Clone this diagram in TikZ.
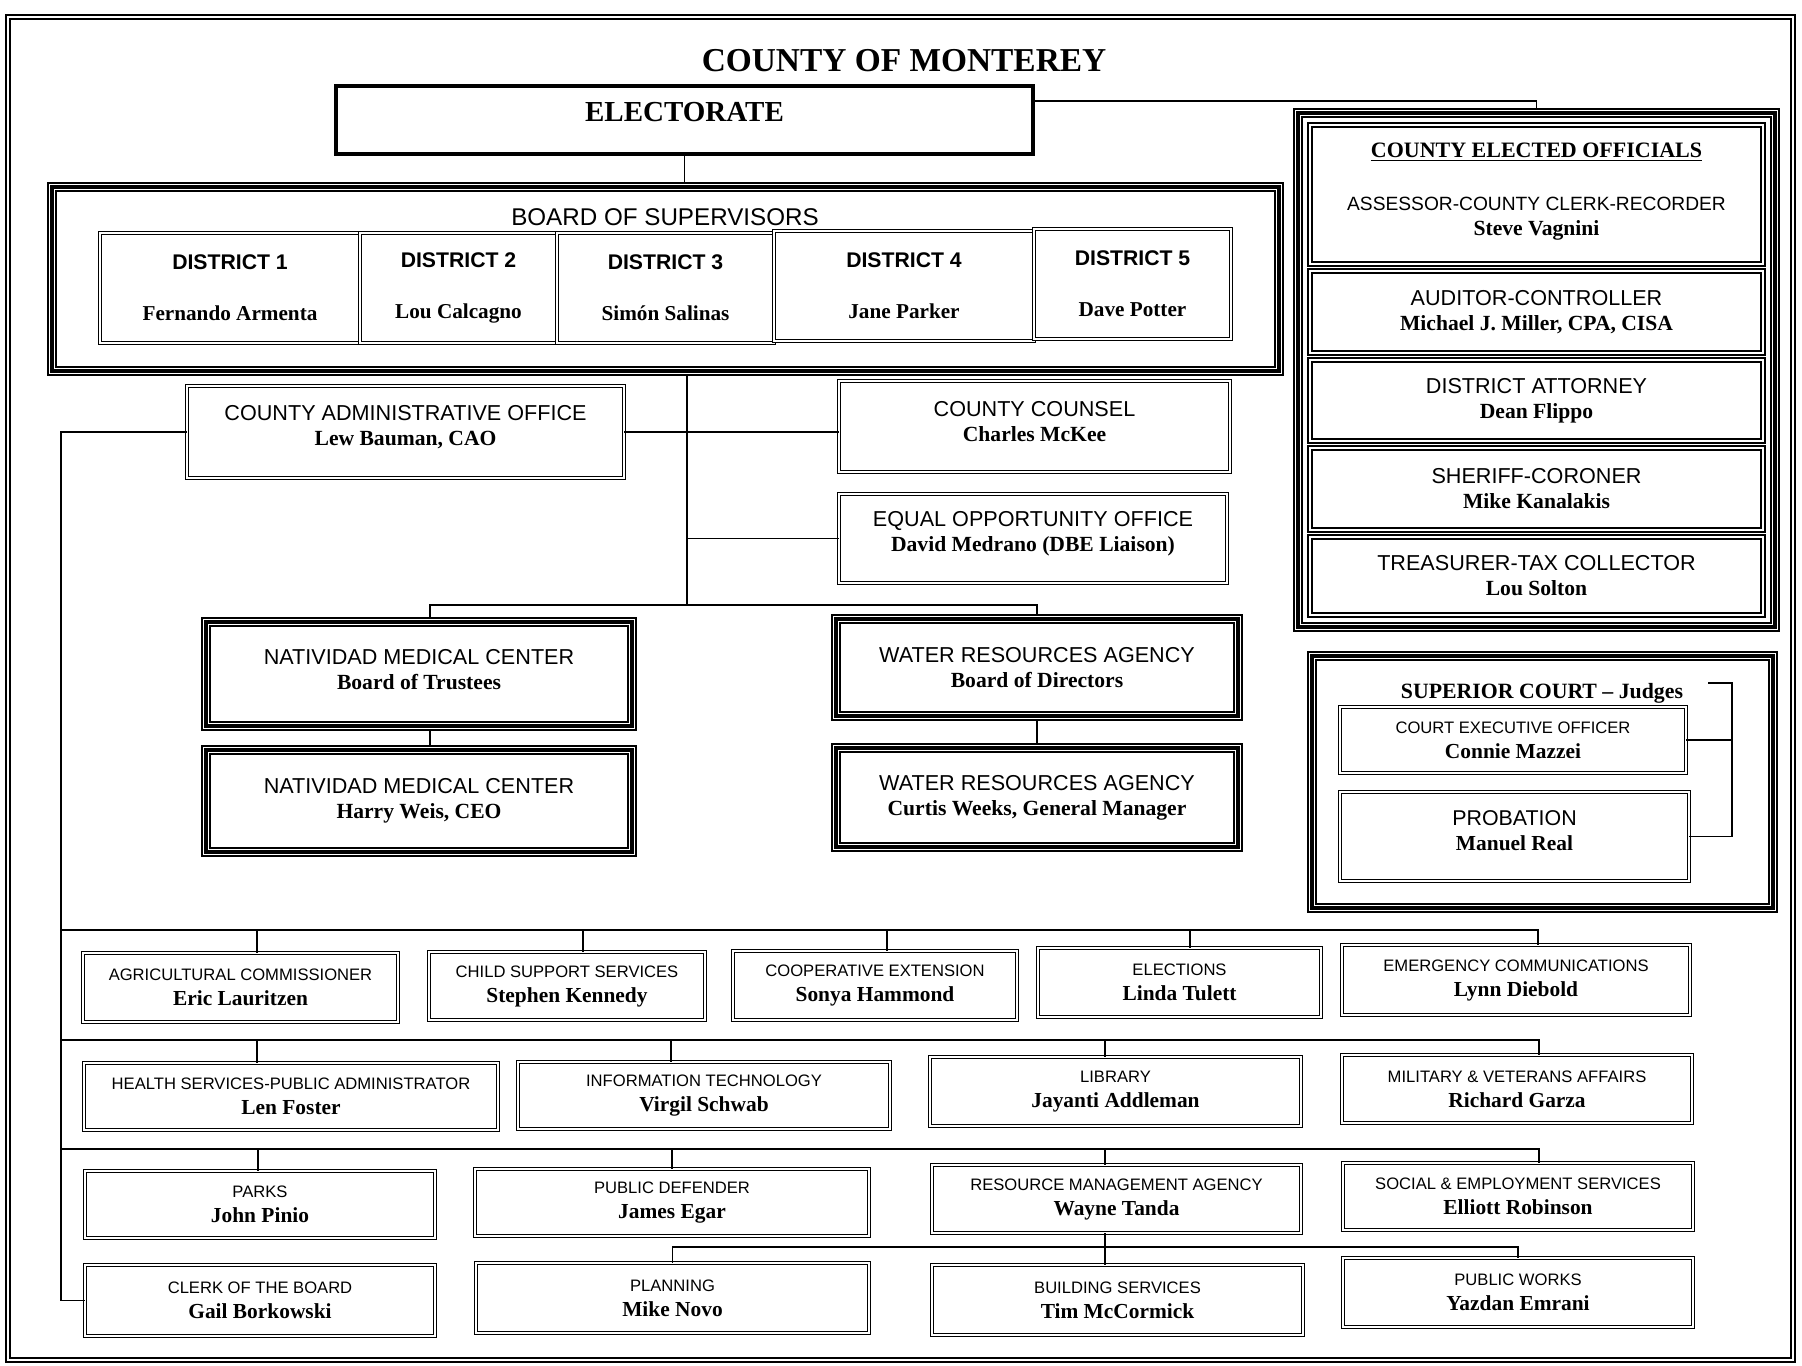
\documentclass[tikz,border=0pt]{standalone}
\usepackage{fontspec}
\setmainfont{Liberation Serif}
\setsansfont{Liberation Sans}
\usetikzlibrary{positioning}
\tikzset{
  every node/.style={align=center,inner sep=0pt},
  wh/.style args={#1x#2}{minimum width=#1*0.5pt,minimum height=#2*0.5pt},
  lift/.style={text depth=#1},
  link/.style={line width=0.6pt},
  pageframe/.style={double,line width=0.9pt,double distance=1.2pt},
  topbox/.style={draw,line width=1.6pt},
  unit/.style={draw,double,double distance=1.1pt,line width=0.45pt},
  heavy/.style={draw,line width=5pt,
    postaction={draw=white,line width=3.4pt},
    postaction={draw=black,line width=1.8pt}},
  off/.style={font=\bfseries\fontsize{10.8pt}{12.5pt}\selectfont},
  office/.style={off,draw,double,double distance=0.9pt,line width=0.9pt},
  unitoff/.style={off,unit},
  dept/.style={unit,font=\bfseries\fontsize{10.7pt}{12.5pt}\selectfont},
  district/.style={unit,font=\sffamily\bfseries\fontsize{10.6pt}{12.5pt}\selectfont}
}
\newcommand{\what}[1]{{\sffamily\mdseries #1}}
\newcommand{\who}[1]{{\rmfamily\bfseries #1}}
\newcommand{\deptitle}[1]{{\sffamily\mdseries\fontsize{8.3pt}{10pt}\selectfont #1}}
\begin{document}
\begin{tikzpicture}[x=0.5pt,y=-0.5pt]
  \useasboundingbox (0,0) rectangle (1802,1365);
  \draw[pageframe] (8,17) rectangle (1793,1360);

  % title and electorate
  \node[font=\bfseries\fontsize{16.7pt}{20pt}\selectfont] (title) at (904,61) {COUNTY OF MONTEREY};
  \node[topbox,wh=697x68,lift=8pt,font=\bfseries\fontsize{14.5pt}{17pt}\selectfont] (electorate) at (684.5,120) {ELECTORATE};

  % board of supervisors
  \node[heavy,wh=1227x184] (board) at (665.5,279) {};
  \node[font=\sffamily\fontsize{12.1pt}{14pt}\selectfont] (boardhead) at (665,217) {BOARD OF SUPERVISORS};
  \node[district,wh=260x110] (d1) at (230,288) {DISTRICT 1\\[13pt]\who{Fernando Armenta}};
  \node[district,wh=197x110] (d2) at (458.5,288) {DISTRICT 2\\[13pt]\who{Lou Calcagno}};
  \node[district,wh=217x110] (d3) at (665.5,288) {DISTRICT 3\\[13pt]\who{Simón Salinas}};
  \node[district,wh=260x110] (d4) at (904,286) {DISTRICT 4\\[13pt]\who{Jane Parker}};
  \node[district,wh=197x110] (d5) at (1132.5,284) {DISTRICT 5\\[13pt]\who{Dave Potter}};

  % county elected officials
  \node[heavy,wh=477x514] (elected) at (1536.5,370) {};
  \node[office,wh=453x139,lift=5.6pt] (assessor) at (1536.5,194.5) {\fontsize{11pt}{12.5pt}\selectfont\underline{COUNTY ELECTED OFFICIALS}\\[14pt]{\sffamily\mdseries\fontsize{9.6pt}{12pt}\selectfont ASSESSOR-COUNTY CLERK-RECORDER}\\Steve Vagnini};
  \node[office,wh=453x82] (auditor) at (1536.5,312) {\what{AUDITOR-CONTROLLER}\\Michael J. Miller, CPA, CISA};
  \node[office,wh=453x81] (da) at (1536.5,400.5) {\what{DISTRICT ATTORNEY}\\Dean Flippo};
  \node[office,wh=453x82] (sheriff) at (1536.5,489) {\what{SHERIFF-CORONER}\\Mike Kanalakis};
  \node[office,wh=453x78] (treasurer) at (1536.5,576) {\what{TREASURER-TAX COLLECTOR}\\Lou Solton};

  % superior court
  \node[heavy,wh=461x252] (court) at (1542.5,782) {};
  \node[font=\bfseries\fontsize{10.9pt}{13pt}\selectfont] (courthead) at (1542,693) {SUPERIOR COURT \textendash{} Judges};
  \node[dept,wh=346x66] (ceo) at (1513,740) {\deptitle{COURT EXECUTIVE OFFICER}\\Connie Mazzei};
  \node[dept,wh=349x89,lift=6pt] (probation) at (1514.5,836.5) {\what{PROBATION}\\Manuel Real};

  % offices under the board
  \node[unitoff,wh=437x92,lift=6.5pt] (cao) at (405.5,432) {\what{COUNTY ADMINISTRATIVE OFFICE}\\Lew Bauman, CAO};
  \node[unitoff,wh=391x91,lift=5pt] (counsel) at (1034.5,426.5) {\what{COUNTY COUNSEL}\\Charles McKee};
  \node[unitoff,wh=388x89,lift=7pt] (eeo) at (1033,538.5) {\what{EQUAL OPPORTUNITY OFFICE}\\David Medrano (DBE Liaison)};
  \node[off,heavy,wh=426x104,lift=5pt] (nmcb) at (419,674) {\what{NATIVIDAD MEDICAL CENTER}\\Board of Trustees};
  \node[off,heavy,wh=426x102] (nmcc) at (419,801) {\what{NATIVIDAD MEDICAL CENTER}\\Harry Weis, CEO};
  \node[off,heavy,wh=402x97] (wrab) at (1037,667.5) {\what{WATER RESOURCES AGENCY}\\Board of Directors};
  \node[off,heavy,wh=402x99] (wrag) at (1037,797.5) {\what{WATER RESOURCES AGENCY}\\Curtis Weeks, General Manager};

  % departments
  \node[dept,wh=315x69] (agri) at (240.5,987.5) {\deptitle{AGRICULTURAL COMMISSIONER}\\Eric Lauritzen};
  \node[dept,wh=276x68] (child) at (567,986) {\deptitle{CHILD SUPPORT SERVICES}\\Stephen Kennedy};
  \node[dept,wh=284x69] (coop) at (875,985.5) {\deptitle{COOPERATIVE EXTENSION}\\Sonya Hammond};
  \node[dept,wh=283x69] (elect) at (1179.5,982.5) {\deptitle{ELECTIONS}\\Linda Tulett};
  \node[dept,wh=348x70] (emerg) at (1516,980) {\deptitle{EMERGENCY COMMUNICATIONS}\\Lynn Diebold};

  \node[dept,wh=414x67] (health) at (291,1096.5) {\deptitle{HEALTH SERVICES-PUBLIC ADMINISTRATOR}\\Len Foster};
  \node[dept,wh=372x67] (it) at (704,1095.5) {\deptitle{INFORMATION TECHNOLOGY}\\Virgil Schwab};
  \node[dept,wh=371x69] (library) at (1115.5,1091.5) {\deptitle{LIBRARY}\\Jayanti Addleman};
  \node[dept,wh=350x68] (military) at (1517,1089) {\deptitle{MILITARY \& VETERANS AFFAIRS}\\Richard Garza};

  \node[dept,wh=350x67] (parks) at (260,1204.5) {\deptitle{PARKS}\\John Pinio};
  \node[dept,wh=394x67] (pubdef) at (672,1202.5) {\deptitle{PUBLIC DEFENDER}\\James Egar};
  \node[dept,wh=369x68] (rma) at (1116.5,1199) {\deptitle{RESOURCE MANAGEMENT AGENCY}\\Wayne Tanda};
  \node[dept,wh=350x67] (social) at (1518,1196.5) {\deptitle{SOCIAL \& EMPLOYMENT SERVICES}\\Elliott Robinson};

  \node[dept,wh=350x71] (clerk) at (260,1300.5) {\deptitle{CLERK OF THE BOARD}\\Gail Borkowski};
  \node[dept,wh=393x70] (planning) at (672.5,1298) {\deptitle{PLANNING}\\Mike Novo};
  \node[dept,wh=371x70] (building) at (1117.5,1300) {\deptitle{BUILDING SERVICES}\\Tim McCormick};
  \node[dept,wh=350x69] (pubworks) at (1518,1292.5) {\deptitle{PUBLIC WORKS}\\Yazdan Emrani};

  % connectors
  \coordinate (hub) at (687,605);
  \coordinate (spine) at (61,0);
  \coordinate (busA) at (61,930);
  \coordinate (busB) at (61,1040);
  \coordinate (busC) at (61,1149);
  \coordinate (busD) at (672,1247);
  \coordinate (judges) at (1708,683);
  \coordinate (courtbar) at (1732,683);

  \draw[link] (electorate.south) -- (electorate.south |- board.north);
  \draw[link] ([yshift=9.5pt]electorate.east) -| (elected.north);
  \draw[link] (board.south -| hub) -- (hub);
  \draw[link] (cao.east) -- (cao.east -| counsel.west);
  \draw[link] (eeo.west -| hub) -- (eeo.west);
  \draw[link] ([xshift=5.5pt]nmcb.north) |- (hub) -| (wrab.north);
  \draw[link] ([xshift=5.5pt]nmcb.south) -- ([xshift=5.5pt]nmcc.north);
  \draw[link] (wrab.south) -- (wrag.north);
  \draw[link] (judges) -- (courtbar) |- (probation.east);
  \draw[link] (ceo.east) -- (ceo.east -| courtbar);

  \draw[link] (cao.west) -- (cao.west -| spine) |- (clerk.west);
  \foreach \n/\s in {agri/8.25,child/8,coop/6,elect/5.25,emerg/11}
    \draw[link] ([xshift=\s pt]\n.north) |- (busA);
  \foreach \n/\s in {health/-17,it/-16.5,library/-5.25,military/11}
    \draw[link] ([xshift=\s pt]\n.north) |- (busB);
  \foreach \n/\s in {parks/-1,pubdef/0,rma/-5.75,social/10.5}
    \draw[link] ([xshift=\s pt]\n.north) |- (busC);
  \draw[link] (planning.north) |- (busD) -| (pubworks.north);
  \draw[link] ([xshift=-5.75pt]rma.south) -- ([xshift=-6.25pt]building.north);
\end{tikzpicture}
\end{document}
